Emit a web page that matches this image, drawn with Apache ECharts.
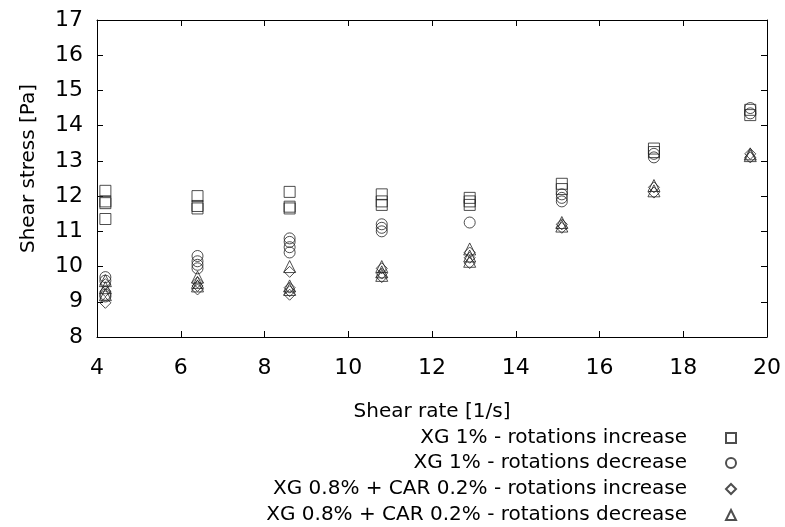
<!DOCTYPE html>
<html>
<head>
<meta charset="utf-8">
<script src="https://cdn.jsdelivr.net/npm/echarts@6/dist/echarts.min.js"></script>
<style>html,body{margin:0;padding:0;background:#fff}#c{width:785px;height:527px}</style>
</head>
<body>
<div id="c"></div>
<script>
// Shear rate positions
const rates = [4.2, 6.4, 8.6, 10.8, 12.9, 15.1, 17.3, 19.6];
// Values per rate (several repetitions)
const xgInc = [
  [12.15, 11.85, 11.8, 11.35],
  [12.0, 11.72, 11.65],
  [12.12, 11.7, 11.65],
  [12.05, 11.85, 11.75],
  [11.95, 11.85, 11.75],
  [12.35, 12.2],
  [13.35, 13.25],
  [14.45, 14.3]
];
const xgDec = [
  [9.7, 9.6, 9.2, 9.15],
  [10.3, 10.15, 10.05, 9.95],
  [10.8, 10.7, 10.55, 10.4],
  [11.2, 11.1, 11.0],
  [11.25],
  [12.05, 11.95, 11.85],
  [13.2, 13.1],
  [14.5, 14.35]
];
const carInc = [
  [9.5, 9.3, 8.97],
  [9.55, 9.45, 9.35],
  [9.85, 9.4, 9.3, 9.2],
  [9.95, 9.8, 9.7],
  [10.4, 10.25, 10.1],
  [11.2, 11.1],
  [12.25, 12.1],
  [13.2, 13.1]
];
const carDec = [
  [9.6, 9.4, 9.2],
  [9.7, 9.55, 9.45],
  [10.0, 9.45, 9.35],
  [10.0, 9.85, 9.75],
  [10.5, 10.3, 10.15],
  [11.25, 11.15],
  [12.3, 12.15],
  [13.2, 13.15]
];
const seriesNames = [
  'XG 1% - rotations increase',
  'XG 1% - rotations decrease',
  'XG 0.8% + CAR 0.2% - rotations increase',
  'XG 0.8% + CAR 0.2% - rotations decrease'
];
const symbols = ['rect', 'circle', 'diamond', 'triangle'];
const xTicks = [4, 6, 8, 10, 12, 14, 16, 18, 20];
const yTicks = [8, 9, 10, 11, 12, 13, 14, 15, 16, 17];

function toPoints(vals) {
  const out = [];
  vals.forEach((arr, i) => arr.forEach(v => out.push([rates[i], v])));
  return out;
}
const allData = [xgInc, xgDec, carInc, carDec];
const FONT = 'DejaVu Sans';
const axisCommon = {
  axisLine: {show: true, lineStyle: {color: '#000', width: 1}},
  axisTick: {show: true, inside: true, length: 6, lineStyle: {color: '#000'}},
  splitLine: {show: false}
};
const legendTops = [423, 448, 474, 500];
const chart = echarts.init(document.getElementById('c'));
chart.setOption({
  animation: false,
  backgroundColor: '#fff',
  grid: {left: 97, right: 18, top: 20, bottom: 190},
  xAxis: [
    Object.assign({
      type: 'value', min: xTicks[0], max: xTicks[xTicks.length - 1], interval: 2,
      name: 'Shear rate [1/s]', nameLocation: 'middle', nameGap: 65,
      nameTextStyle: {fontFamily: FONT, fontSize: 20, color: '#000'},
      axisLabel: {fontFamily: FONT, fontSize: 22, color: '#000', margin: 20}
    }, axisCommon),
    Object.assign({
      type: 'value', position: 'top', min: xTicks[0], max: xTicks[xTicks.length - 1], interval: 2,
      axisLabel: {show: false}
    }, axisCommon)
  ],
  yAxis: [
    Object.assign({
      type: 'value', min: yTicks[0], max: yTicks[yTicks.length - 1], interval: 1,
      name: 'Shear stress [Pa]', nameLocation: 'middle', nameGap: 58, nameRotate: 90,
      nameTextStyle: {fontFamily: FONT, fontSize: 20, color: '#000', padding: [0, 0, 0, 20]},
      axisLabel: {fontFamily: FONT, fontSize: 22, color: '#000', margin: 14}
    }, axisCommon),
    Object.assign({
      type: 'value', position: 'right', min: yTicks[0], max: yTicks[yTicks.length - 1], interval: 1,
      axisLabel: {show: false}
    }, axisCommon)
  ],
  legend: seriesNames.map((name, i) => ({
    orient: 'vertical', align: 'right', right: 43, top: legendTops[i],
    itemWidth: 10, itemHeight: 10, itemGap: 0,
    textStyle: {fontFamily: FONT, fontSize: 20, color: '#000', padding: [0, 34, 0, 0]},
    data: [name]
  })),
  series: seriesNames.map((name, i) => ({
    name: name,
    type: 'scatter',
    symbol: symbols[i],
    symbolSize: symbols[i] === 'triangle' ? 12 : 11,
    itemStyle: {color: 'rgba(0,0,0,0)', borderColor: '#222', borderWidth: 1},
    data: toPoints(allData[i])
  }))
});
</script>
</body>
</html>
